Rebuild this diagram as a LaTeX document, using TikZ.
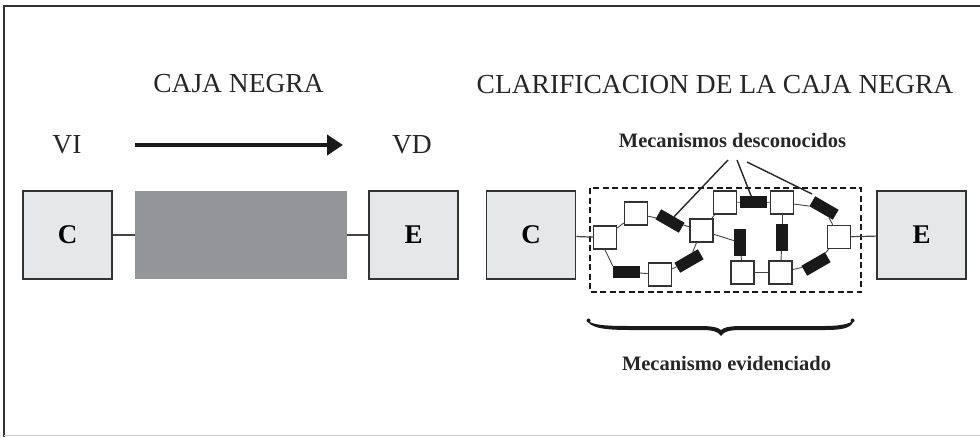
\documentclass[tikz,border=0pt]{standalone}
\usepackage{fontspec}
\setmainfont{Liberation Serif}
\usetikzlibrary{arrows.meta}

\definecolor{boxfill}{HTML}{E6E7E8}
\definecolor{boxline}{HTML}{333333}
\definecolor{blackbox}{HTML}{939598}
\definecolor{linkgray}{HTML}{444444}

\tikzset{
  bigbox/.style={draw=boxline, line width=1.6pt, fill=boxfill, minimum width=89pt,
    minimum height=88pt, inner sep=0pt, font=\fontsize{27}{27}\selectfont\bfseries},
  title/.style={inner sep=0pt, anchor=base, font=\fontsize{27.5}{27.5}\selectfont, text=black!85},
  boldlabel/.style={inner sep=0pt, anchor=base, font=\fontsize{20.5}{20.5}\selectfont\bfseries, text=black!85},
  sq/.style={draw=boxline, line width=1.5pt, fill=white, minimum size=23pt, inner sep=0pt},
  bar/.style={fill=black!90, minimum width=27pt, minimum height=11.5pt, inner sep=0pt},
  link/.style={draw=linkgray, line width=0.9pt},
  callout/.style={draw=black!85, line width=1.4pt},
}

\begin{document}
\begin{tikzpicture}[x=1pt, y=-1pt]
\useasboundingbox (0,0) rectangle (980,437);

% outer frame
\draw[boxline, line width=2pt] (4,437) -- (4,5.5) -- (980,5.5);
\draw[black!20, line width=1pt] (4,435.5) -- (980,435.5);

% ---------- left part: black box ----------
\node[title] (t1) at (238.5,92) {CAJA NEGRA};
\node[title] (vi) at (67,153) {VI};
\node[title] (vd) at (412,153) {VD};
\coordinate (arrA) at (135,145);
\coordinate (arrB) at (343,145);
\draw[black!90, line width=4pt, -{Triangle[length=16pt,width=20pt]}] (arrA) -- (arrB);

\node[bigbox] (c1) at (67.5,235) {C};
\node[fill=blackbox, minimum width=212pt, minimum height=88pt, inner sep=0pt] (bb) at (241,235) {};
\node[bigbox] (e1) at (413.5,235) {E};
\draw[link, line width=1.2pt] (c1) -- (bb);
\draw[link, line width=1.2pt] (bb) -- (e1);

% ---------- right part: clarified box ----------
\node[title] (t2) at (715,93) {CLARIFICACION DE LA CAJA NEGRA};
\node[boldlabel] (lab) at (732.5,147) {Mecanismos desconocidos};

\node[bigbox] (c2) at (531,235) {C};
\node[bigbox] (e2) at (921.5,235) {E};

\draw[black!90, line width=1.4pt, dash pattern=on 6pt off 3.5pt] (590,188) rectangle (861,292);

% mechanism network
\node[sq] (s1) at (605,237.5) {};
\node[sq] (s2) at (636,213.5) {};
\node[bar, rotate=-30] (b1) at (670,221) {};
\node[sq] (s3) at (701.5,230.5) {};
\node[bar, rotate=30] (b2) at (689,261) {};
\node[sq] (s4) at (660,274.5) {};
\node[bar] (b3) at (626.5,272) {};
\node[sq] (s5) at (725,202.5) {};
\node[bar] (b4) at (753.5,202) {};
\node[sq] (s6) at (782,202.5) {};
\node[bar, rotate=-30] (b5) at (824,208) {};
\node[sq] (s7) at (839,237) {};
\node[bar, rotate=30] (b6) at (816,264) {};
\node[sq] (s8) at (780.5,272.5) {};
\node[sq] (s9) at (742.5,272.5) {};
\node[bar, rotate=90] (b7) at (740,242.5) {};
\node[bar, rotate=90] (b8) at (782,237.5) {};

\draw[link, line width=1.2pt] (c2) -- (s1);
\draw[link, line width=1.2pt] (s7) -- (e2);
\draw[link] (s1) -- (s2);
\draw[link] (s2) -- (b1);
\draw[link] (b1) -- (s3);
\draw[link] (s1.south) -- (b3.north west);
\draw[link] (b3) -- (s4);
\draw[link] (s4) -- (b2);
\draw[link] (b2) -- (s3);
\draw[link] (s3) -- (s5);
\draw[link] (s5) -- (b4);
\draw[link] (b4) -- (s6);
\draw[link] (s6) -- (b5);
\draw[link] (b5) -- (s7);
\draw[link] (s7) -- (b6);
\draw[link] (b6) -- (s8);
\draw[link] (s8) -- (s9);
\draw[link] (s9) -- (b7);
\draw[link] (s3) -- (b7);
\draw[link] (s6) -- (b8);
\draw[link] (b8) -- (s8);

% callouts from the label to the unknown mechanisms
\coordinate (p1) at (728,160);
\coordinate (p2) at (737,160);
\coordinate (p3) at (747,162);
\coordinate (q3) at (812,194);
\draw[callout] (p1) -- (b1);
\draw[callout] (p2) -- (b4);
\draw[callout] (p3) -- (q3);

% brace drawn as a tapered filled shape
\fill[black!90, line join=round]
  (587,320) .. controls (590,327) and (600,330) .. (630,330)
  -- (700,330) .. controls (712,330) and (718,331) .. (721,336)
  .. controls (724,331) and (730,330) .. (742,330)
  -- (825,330) .. controls (846,330) and (852,327) .. (854,320)
  .. controls (850,324) and (840,326) .. (825,326)
  -- (742,326) .. controls (732,326) and (724,327) .. (721,330)
  .. controls (718,327) and (710,326) .. (700,326)
  -- (630,326) .. controls (604,326) and (592,325) .. (587,320) -- cycle;
\fill[black!90] (588.5,320.5) circle (2pt) (852.5,320.5) circle (2pt);

\node[boldlabel] (lab2) at (726.5,370) {Mecanismo evidenciado};
\end{tikzpicture}
\end{document}
